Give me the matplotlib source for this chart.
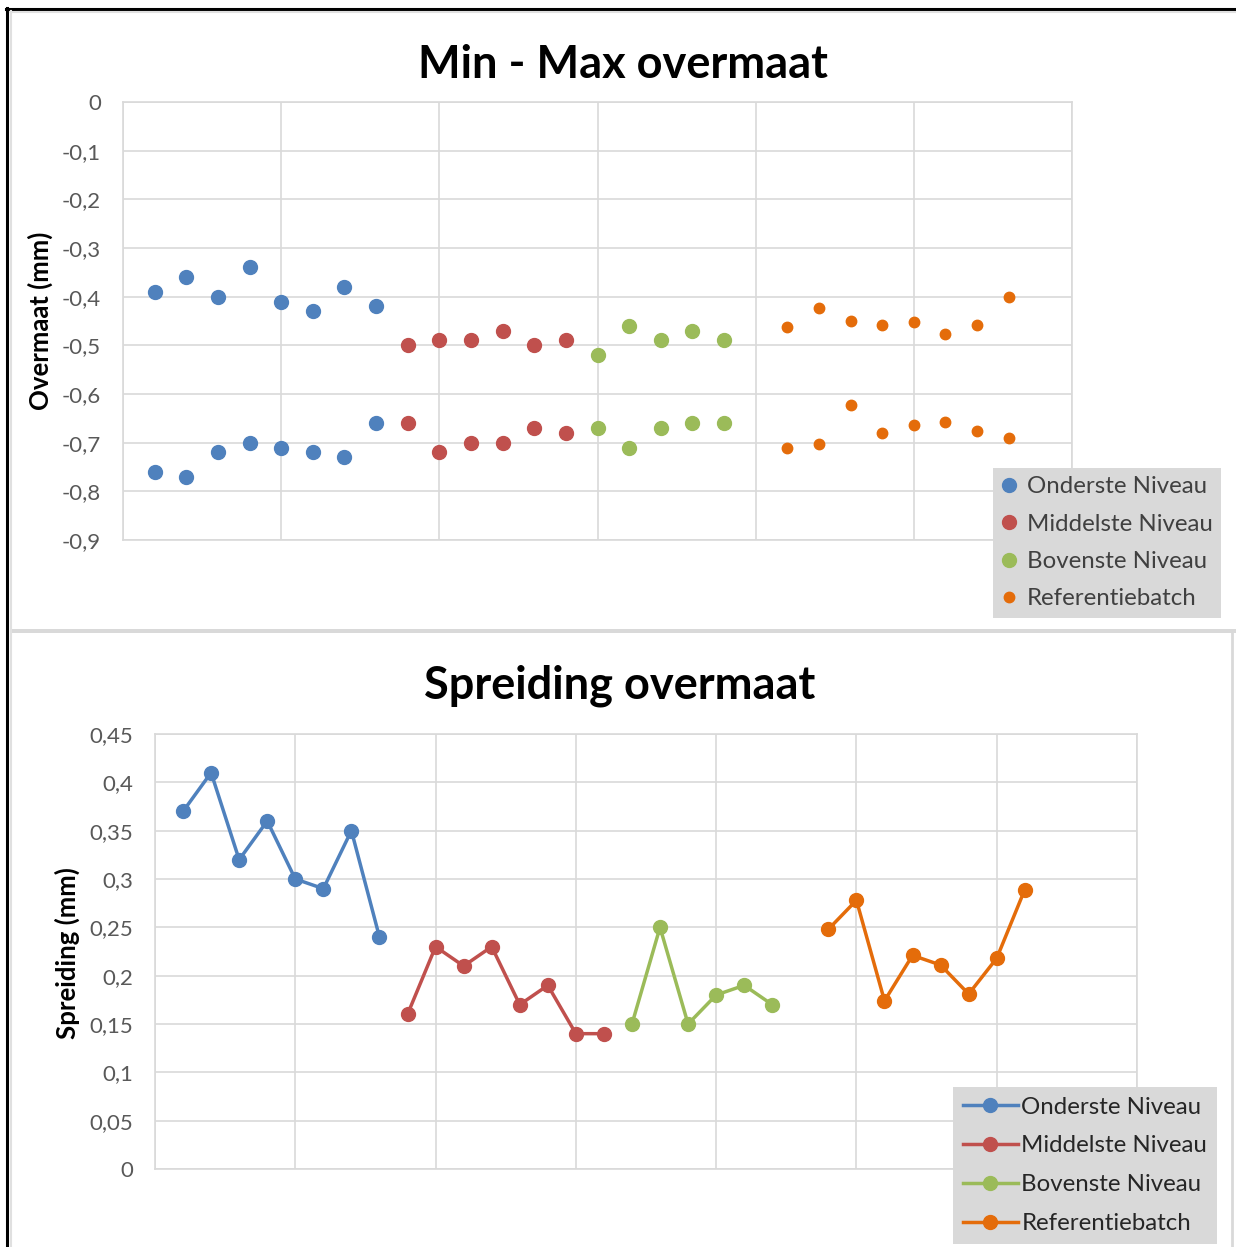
import numpy as np
import matplotlib
matplotlib.use("Agg")
import matplotlib.pyplot as plt
from matplotlib.patches import Rectangle
from matplotlib.lines import Line2D

plt.rcParams["font.family"] = ["Lato", "DejaVu Sans"]

W, H = 1236, 1247

series = ["Onderste Niveau", "Middelste Niveau", "Bovenste Niveau", "Referentiebatch"]
colors = ["#4F81BD", "#C0504D", "#9BBB59", "#E46C0A"]

# bovenste grafiek: min/max per meting
x_max = [[1, 2, 3, 4, 5, 6, 7, 8], [9, 10, 11, 12, 13, 14], [15, 16, 17, 18, 19],
         [21, 22, 23, 24, 25, 26, 27, 28]]
max_vals = [[-0.39, -0.36, -0.40, -0.34, -0.41, -0.43, -0.38, -0.42],
            [-0.50, -0.49, -0.49, -0.47, -0.50, -0.49],
            [-0.52, -0.46, -0.49, -0.47, -0.49],
            [-0.462, -0.423, -0.450, -0.458, -0.452, -0.477, -0.458, -0.401]]
min_vals = [[-0.76, -0.77, -0.72, -0.70, -0.71, -0.72, -0.73, -0.66],
            [-0.66, -0.72, -0.70, -0.70, -0.67, -0.68],
            [-0.67, -0.71, -0.67, -0.66, -0.66],
            [-0.711, -0.703, -0.623, -0.680, -0.664, -0.657, -0.676, -0.690]]
top_ticks = [0, -0.1, -0.2, -0.3, -0.4, -0.5, -0.6, -0.7, -0.8, -0.9]
top_ticklabels = ["0", "-0,1", "-0,2", "-0,3", "-0,4", "-0,5", "-0,6", "-0,7", "-0,8", "-0,9"]

# onderste grafiek: spreiding
x_spr = [[1, 2, 3, 4, 5, 6, 7, 8], [9, 10, 11, 12, 13, 14, 15, 16],
         [17, 18, 19, 20, 21, 22], [24, 25, 26, 27, 28, 29, 30, 31]]
spreiding = [[0.37, 0.41, 0.32, 0.36, 0.30, 0.29, 0.35, 0.24],
             [0.16, 0.23, 0.21, 0.23, 0.17, 0.19, 0.14, 0.14],
             [0.15, 0.25, 0.15, 0.18, 0.19, 0.17],
             [0.248, 0.278, 0.174, 0.221, 0.211, 0.181, 0.218, 0.289]]
bot_ticks = [0, 0.05, 0.1, 0.15, 0.2, 0.25, 0.3, 0.35, 0.4, 0.45]
bot_ticklabels = ["0", "0,05", "0,1", "0,15", "0,2", "0,25", "0,3", "0,35", "0,4", "0,45"]

GRID = "#D9D9D9"
TICK = "#595959"


def px_rect(left, top, right, bottom):
    return [left / W, 1 - bottom / H, (right - left) / W, (bottom - top) / H]


def style_axes(ax):
    ax.grid(True, color=GRID, lw=1.2)
    ax.set_axisbelow(True)
    for s in ax.spines.values():
        s.set_color(GRID)
        s.set_linewidth(1.2)
    ax.tick_params(length=0, labelsize=16, colors=TICK, pad=16)
    ax.set_xticklabels([])


def style_legend(leg, txtcolor):
    fr = leg.get_frame()
    fr.set_facecolor("#D9D9D9")
    fr.set_edgecolor("none")
    fr.set_alpha(1)
    for t in leg.get_texts():
        t.set_color(txtcolor)


fig = plt.figure(figsize=(W / 100, H / 100), dpi=100)

# kaders van beide grafieken
fig.add_artist(Line2D([7 / W, 7 / W], [0, 1 - 8 / H], color="black", lw=2.2))
fig.add_artist(Line2D([6 / W, 1], [1 - 9 / H, 1 - 9 / H], color="black", lw=2.2))
fig.add_artist(Line2D([11 / W, 11 / W], [0, 1 - 11 / H], color="#E0E0E0", lw=1.5))
fig.add_artist(Line2D([10 / W, 1], [1 - 12 / H, 1 - 12 / H], color="#E0E0E0", lw=1.5))
fig.add_artist(Rectangle((10 / W, 1 - 633 / H), 1 - 10 / W, 4 / H, color="#D9D9D9", lw=0))
fig.add_artist(Line2D([1232 / W, 1232 / W], [0, 1 - 633 / H], color="#D9D9D9", lw=2))

# Min - Max overmaat
ax1 = fig.add_axes(px_rect(123, 102, 1072, 540))
for xs, hi, lo, c, lab in zip(x_max, max_vals, min_vals, colors, series):
    ms = 7.5 if lab == "Referentiebatch" else 10
    ax1.plot(xs, hi, "o", color=c, ms=ms, label=lab)
    ax1.plot(xs, lo, "o", color=c, ms=ms)
ax1.set_xlim(0, 30)
ax1.set_xticks(np.arange(0, 31, 5))
ax1.set_ylim(-0.9, 0)
ax1.set_yticks(top_ticks)
ax1.set_yticklabels(top_ticklabels)
style_axes(ax1)
fig.text(623 / W, 1 - 65 / H, "Min - Max overmaat", ha="center", va="center",
         fontsize=32.5, fontweight="bold")
fig.text(40 / W, 1 - 321 / H, "Overmaat (mm)", ha="center", va="center",
         rotation=90, fontsize=18.5, fontweight="bold")
leg1 = ax1.legend(loc="upper left", bbox_to_anchor=(993 / W, 1 - 468 / H),
                  bbox_transform=fig.transFigure, frameon=True, fancybox=False,
                  fontsize=17.3, handlelength=0.6, handletextpad=0.45,
                  labelspacing=0.68, borderpad=0.35, borderaxespad=0)
style_legend(leg1, "#404040")

# Spreiding overmaat
ax2 = fig.add_axes(px_rect(155, 734, 1137, 1169))
for xs, ys, c, lab in zip(x_spr, spreiding, colors, series):
    ax2.plot(xs, ys, "-o", color=c, ms=10, lw=2.5, label=lab)
ax2.set_xlim(0, 35)
ax2.set_xticks(np.arange(0, 36, 5))
ax2.set_ylim(0, 0.45)
ax2.set_yticks(bot_ticks)
ax2.set_yticklabels(bot_ticklabels)
style_axes(ax2)
fig.text(620 / W, 1 - 686 / H, "Spreiding overmaat", ha="center", va="center",
         fontsize=32.5, fontweight="bold")
fig.text(67 / W, 1 - 953 / H, "Spreiding (mm)", ha="center", va="center",
         rotation=90, fontsize=18.5, fontweight="bold")
leg2 = ax2.legend(loc="upper left", bbox_to_anchor=(953 / W, 1 - 1087 / H),
                  bbox_transform=fig.transFigure, frameon=True, fancybox=False,
                  fontsize=17.3, handlelength=2.3, handletextpad=0.15,
                  labelspacing=0.74, borderpad=0.4, borderaxespad=0)
style_legend(leg2, "#262626")

fig.savefig("out.png", dpi=100)
